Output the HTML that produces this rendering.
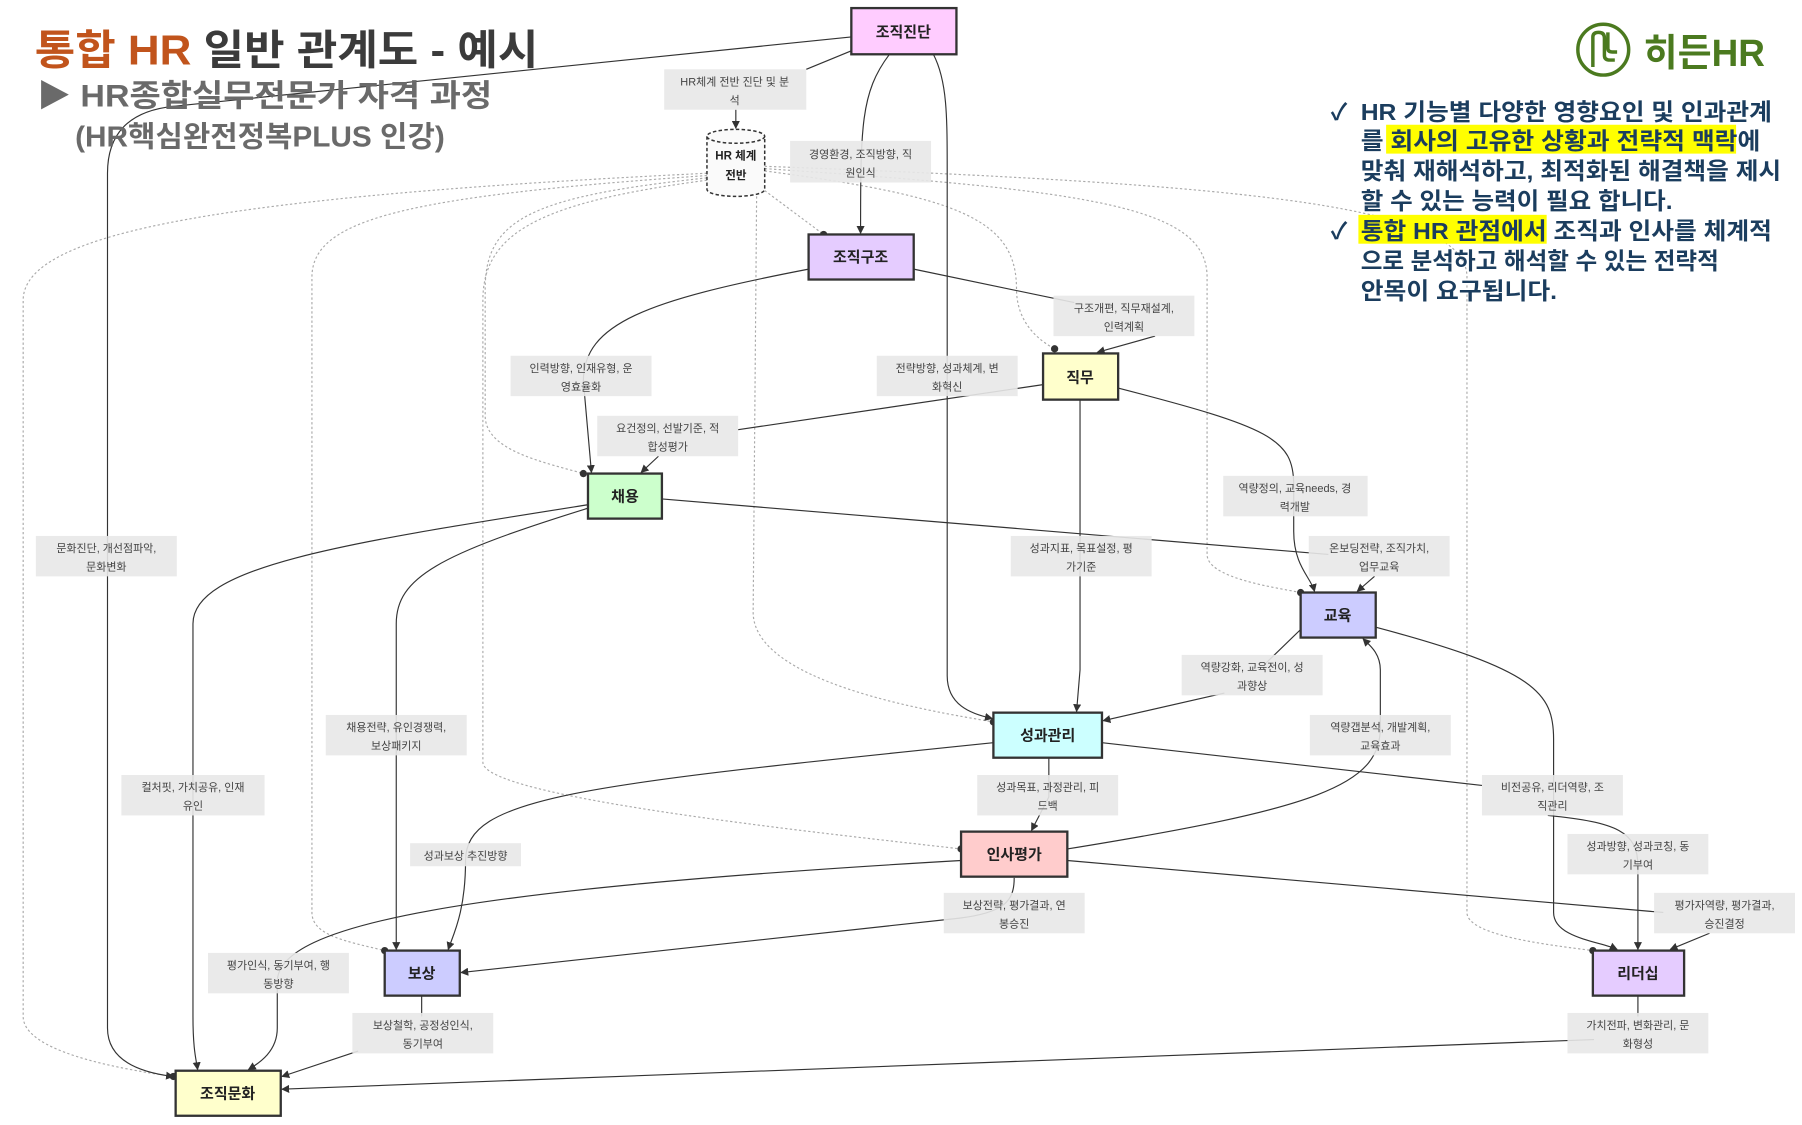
<!DOCTYPE html>
<html><head><meta charset="utf-8"><style>
html,body{margin:0;padding:0;background:#fff;}
svg{display:block;}
text{font-family:"Liberation Sans","Noto Sans CJK KR",sans-serif;}
.lb{font-size:9.5px;fill:#444;}
.lbg{fill:#e8e8e8;opacity:.9;}
.nd{stroke:#333;stroke-width:2;}
.nt{font-size:13px;font-weight:bold;fill:#222;text-anchor:middle;}
.e{fill:none;stroke:#333;stroke-width:1;}
.d{fill:none;stroke:#aaa;stroke-width:1;stroke-dasharray:2,2;}
.bt{font-size:20px;fill:#1b3d5e;font-weight:bold;}
</style></head><body>
<svg width="1802" height="1125" viewBox="0 0 1560 974" xmlns="http://www.w3.org/2000/svg">
<defs>
<marker id="a" viewBox="0 0 10 10" refX="9" refY="5" markerWidth="7" markerHeight="7" markerUnits="userSpaceOnUse" orient="auto"><path d="M0,0 L10,5 L0,10 z" fill="#333"/></marker>
<marker id="c" viewBox="0 0 10 10" refX="5" refY="5" markerWidth="7" markerHeight="7" markerUnits="userSpaceOnUse"><circle cx="5" cy="5" r="4.5" fill="#333"/></marker>
</defs>

<!-- dotted edges from HR 체계 -->
<g class="d" marker-end="url(#c)">
<path d="M612,150 C200,170 20,200 20,260 L20,880 C20,910 100,925 150,932"/>
<path d="M612,152 C350,170 270,190 270,240 L270,790 C270,810 300,815 333,823"/>
<path d="M612,154 C460,170 420,190 420,250 L420,360 C420,390 470,400 505,410"/>
<path d="M612,156 C470,175 418,200 418,260 L418,660 C418,690 700,720 832,735"/>
<path d="M655,170 L652,530 C652,590 800,615 860,625"/>
<path d="M662,165 L713,203"/>
<path d="M662,148 C830,170 880,190 880,250 C880,280 900,295 913,302"/>
<path d="M662,146 C950,165 1045,180 1045,240 L1045,480 C1045,500 1100,508 1126,513"/>
<path d="M662,144 C1100,160 1270,180 1270,240 L1270,790 C1270,810 1340,818 1379,823"/>
</g>

<!-- solid edges -->
<g class="e">
<path d="M737,32 L150,92 Q93,98 93,150 L93,890 Q93,925 150,932" marker-end="url(#a)"/>
<path d="M737,44 L698,60"/>
<path d="M637,95 L637,111" marker-end="url(#a)"/>
<path d="M770,47 C745,80 745,110 745,202" marker-end="url(#a)"/>
<path d="M808,47 C820,70 820,100 820,150 L820,585 C820,610 840,618 859,622" marker-end="url(#a)"/>
<path d="M791,233 L930,262"/>
<path d="M1000,291 L950,305" marker-end="url(#a)"/>
<path d="M700,233 C560,260 505,280 505,330 L512,409" marker-end="url(#a)"/>
<path d="M903,333 L639,372"/>
<path d="M570,395 L555,409" marker-end="url(#a)"/>
<path d="M968,336 C1100,370 1120,380 1120,420 L1120,460 C1120,490 1135,500 1138,512" marker-end="url(#a)"/>
<path d="M935,346 L935,580 L932,616" marker-end="url(#a)"/>
<path d="M573,432 L1150,480"/>
<path d="M1190,499 L1175,512" marker-end="url(#a)"/>
<path d="M509,437 C300,470 167,490 167,540 L167,880 C167,910 170,918 171,926" marker-end="url(#a)"/>
<path d="M509,440 C380,480 343,500 343,540 L343,822" marker-end="url(#a)"/>
<path d="M1126,545 L1095,575"/>
<path d="M1060,600 L955,624" marker-end="url(#a)"/>
<path d="M1191,543 C1330,580 1345,600 1345,640 L1345,790 C1345,812 1385,815 1400,822" marker-end="url(#a)"/>
<path d="M924,735 C1140,700 1195,680 1195,630 L1195,580 C1195,565 1185,558 1180,553" marker-end="url(#a)"/>
<path d="M860,643 C500,680 403,690 403,745 C403,790 392,810 388,822" marker-end="url(#a)"/>
<path d="M908,656 L908,690 L893,719" marker-end="url(#a)"/>
<path d="M954,643 L1283,680"/>
<path d="M1340,706 C1400,712 1418,720 1418,750 L1418,822" marker-end="url(#a)"/>
<path d="M878,760 C878,780 870,790 830,795 L399,842" marker-end="url(#a)"/>
<path d="M832,745 C400,770 240,800 240,850 L240,890 C240,910 225,920 215,926" marker-end="url(#a)"/>
<path d="M924,745 L1440,790"/>
<path d="M1480,808 L1446,822" marker-end="url(#a)"/>
<path d="M365,862 L365,880"/>
<path d="M310,910 L244,932" marker-end="url(#a)"/>
<path d="M1418,862 L1418,880"/>
<path d="M1380,900 L244,943" marker-end="url(#a)"/>
</g>

<!-- edge labels -->
<g>
<rect class="lbg" x="575" y="60" width="123" height="35"/><text class="lb" x="636" y="74" text-anchor="middle">HR체계 전반 진단 및 분</text><text class="lb" x="636" y="90" text-anchor="middle">석</text>
<rect class="lbg" x="684" y="122" width="122" height="36"/><text class="lb" x="745" y="137" text-anchor="middle">경영환경, 조직방향, 직</text><text class="lb" x="745" y="153" text-anchor="middle">원인식</text>
<rect class="lbg" x="912" y="256" width="122" height="35"/><text class="lb" x="973" y="270" text-anchor="middle">구조개편, 직무재설계,</text><text class="lb" x="973" y="286" text-anchor="middle">인력계획</text>
<rect class="lbg" x="442" y="308" width="122" height="35"/><text class="lb" x="503" y="322" text-anchor="middle">인력방향, 인재유형, 운</text><text class="lb" x="503" y="338" text-anchor="middle">영효율화</text>
<rect class="lbg" x="759" y="308" width="122" height="35"/><text class="lb" x="820" y="322" text-anchor="middle">전략방향, 성과체계, 변</text><text class="lb" x="820" y="338" text-anchor="middle">화혁신</text>
<rect class="lbg" x="517" y="360" width="122" height="35"/><text class="lb" x="578" y="374" text-anchor="middle">요건정의, 선발기준, 적</text><text class="lb" x="578" y="390" text-anchor="middle">합성평가</text>
<rect class="lbg" x="1059" y="412" width="125" height="35"/><text class="lb" x="1121" y="426" text-anchor="middle">역량정의, 교육needs, 경</text><text class="lb" x="1121" y="442" text-anchor="middle">력개발</text>
<rect class="lbg" x="31" y="464" width="122" height="35"/><text class="lb" x="92" y="478" text-anchor="middle">문화진단, 개선점파악,</text><text class="lb" x="92" y="494" text-anchor="middle">문화변화</text>
<rect class="lbg" x="875" y="464" width="122" height="35"/><text class="lb" x="936" y="478" text-anchor="middle">성과지표, 목표설정, 평</text><text class="lb" x="936" y="494" text-anchor="middle">가기준</text>
<rect class="lbg" x="1133" y="464" width="122" height="35"/><text class="lb" x="1194" y="478" text-anchor="middle">온보딩전략, 조직가치,</text><text class="lb" x="1194" y="494" text-anchor="middle">업무교육</text>
<rect class="lbg" x="1023" y="567" width="122" height="35"/><text class="lb" x="1084" y="581" text-anchor="middle">역량강화, 교육전이, 성</text><text class="lb" x="1084" y="597" text-anchor="middle">과향상</text>
<rect class="lbg" x="282" y="619" width="122" height="35"/><text class="lb" x="343" y="633" text-anchor="middle">채용전략, 유인경쟁력,</text><text class="lb" x="343" y="649" text-anchor="middle">보상패키지</text>
<rect class="lbg" x="1134" y="619" width="122" height="35"/><text class="lb" x="1195" y="633" text-anchor="middle">역량갭분석, 개발계획,</text><text class="lb" x="1195" y="649" text-anchor="middle">교육효과</text>
<rect class="lbg" x="105" y="671" width="124" height="35"/><text class="lb" x="167" y="685" text-anchor="middle">컬처핏, 가치공유, 인재</text><text class="lb" x="167" y="701" text-anchor="middle">유인</text>
<rect class="lbg" x="846" y="671" width="122" height="35"/><text class="lb" x="907" y="685" text-anchor="middle">성과목표, 과정관리, 피</text><text class="lb" x="907" y="701" text-anchor="middle">드백</text>
<rect class="lbg" x="1283" y="671" width="122" height="35"/><text class="lb" x="1344" y="685" text-anchor="middle">비전공유, 리더역량, 조</text><text class="lb" x="1344" y="701" text-anchor="middle">직관리</text>
<rect class="lbg" x="355" y="730" width="96" height="20"/><text class="lb" x="403" y="744" text-anchor="middle">성과보상 추진방향</text>
<rect class="lbg" x="1357" y="722" width="122" height="35"/><text class="lb" x="1418" y="736" text-anchor="middle">성과방향, 성과코칭, 동</text><text class="lb" x="1418" y="752" text-anchor="middle">기부여</text>
<rect class="lbg" x="817" y="773" width="122" height="35"/><text class="lb" x="878" y="787" text-anchor="middle">보상전략, 평가결과, 연</text><text class="lb" x="878" y="803" text-anchor="middle">봉승진</text>
<rect class="lbg" x="1432" y="773" width="122" height="35"/><text class="lb" x="1493" y="787" text-anchor="middle">평가자역량, 평가결과,</text><text class="lb" x="1493" y="803" text-anchor="middle">승진결정</text>
<rect class="lbg" x="180" y="825" width="122" height="35"/><text class="lb" x="241" y="839" text-anchor="middle">평가인식, 동기부여, 행</text><text class="lb" x="241" y="855" text-anchor="middle">동방향</text>
<rect class="lbg" x="305" y="877" width="122" height="35"/><text class="lb" x="366" y="891" text-anchor="middle">보상철학, 공정성인식,</text><text class="lb" x="366" y="907" text-anchor="middle">동기부여</text>
<rect class="lbg" x="1357" y="877" width="122" height="35"/><text class="lb" x="1418" y="891" text-anchor="middle">가치전파, 변화관리, 문</text><text class="lb" x="1418" y="907" text-anchor="middle">화형성</text>
</g>

<!-- cylinder -->
<g fill="#fafafa" stroke="#333" stroke-width="1.3" stroke-dasharray="3,2">
<path d="M612,118 L612,164 A25,6 0 0 0 662,164 L662,118"/>
<ellipse cx="637" cy="118" rx="25" ry="6"/>
</g>
<text x="637" y="138" text-anchor="middle" font-size="10" font-weight="bold" fill="#222">HR 체계</text>
<text x="637" y="155" text-anchor="middle" font-size="10" font-weight="bold" fill="#222">전반</text>

<!-- nodes -->
<g class="nd">
<rect x="737" y="7" width="91" height="40" fill="#ffccff"/>
<rect x="700" y="203" width="91" height="39" fill="#e5ccff"/>
<rect x="903" y="306" width="65" height="40" fill="#ffffcc"/>
<rect x="509" y="410" width="64" height="39" fill="#ccffcc"/>
<rect x="1126" y="513" width="65" height="39" fill="#ccccff"/>
<rect x="860" y="617" width="94" height="39" fill="#ccffff"/>
<rect x="832" y="720" width="92" height="39" fill="#ffcccc"/>
<rect x="333" y="823" width="65" height="39" fill="#ccccff"/>
<rect x="1379" y="823" width="79" height="39" fill="#e5ccff"/>
<rect x="152" y="927" width="91" height="39" fill="#ffffcc"/>
</g>
<text class="nt" x="782" y="32">조직진단</text>
<text class="nt" x="745" y="227">조직구조</text>
<text class="nt" x="935" y="331">직무</text>
<text class="nt" x="541" y="434">채용</text>
<text class="nt" x="1158" y="537">교육</text>
<text class="nt" x="907" y="641">성과관리</text>
<text class="nt" x="878" y="744">인사평가</text>
<text class="nt" x="365" y="847">보상</text>
<text class="nt" x="1418" y="847">리더십</text>
<text class="nt" x="197" y="951">조직문화</text>

<!-- title -->
<text x="30" y="56" font-size="36" font-weight="bold" textLength="436" lengthAdjust="spacingAndGlyphs"><tspan fill="#c1541c">통합 HR </tspan><tspan fill="#3b3b3b">일반 관계도 - 예시</tspan></text>
<text x="32" y="92" font-size="27" font-weight="bold" fill="#6a6a6a" textLength="394" lengthAdjust="spacingAndGlyphs">▶ HR종합실무전문가 자격 과정</text>
<text x="65" y="127" font-size="25" fill="#6a6a6a" font-weight="bold" textLength="320" lengthAdjust="spacingAndGlyphs">(HR핵심완전정복PLUS 인강)</text>

<!-- logo -->
<g fill="none" stroke="#4b7a1f" stroke-width="3">
<circle cx="1388" cy="43" r="22"/>
<path d="M1379,58 L1379,32 Q1379,28 1384,28 Q1389,28 1389,33 L1389,48 Q1389,52 1394,52 L1398,52 M1392,28 L1392,42 Q1392,45 1396,45 L1400,45"/>
</g>
<text x="1423" y="57" font-size="33" fill="#4b7a1f" font-weight="bold" textLength="105" lengthAdjust="spacingAndGlyphs">히든HR</text>

<!-- right text -->
<rect x="1200" y="108" width="303" height="25" fill="#ffff00"/>
<rect x="1176" y="186" width="163" height="25" fill="#ffff00"/>
<text class="bt" x="1152" y="104" font-size="18">✓</text>
<text class="bt" x="1178" y="104" textLength="356" lengthAdjust="spacingAndGlyphs">HR 기능별 다양한 영향요인 및 인과관계</text>
<text class="bt" x="1178" y="129" textLength="346" lengthAdjust="spacingAndGlyphs">를 회사의 고유한 상황과 전략적 맥락에</text>
<text class="bt" x="1178" y="155" textLength="364" lengthAdjust="spacingAndGlyphs">맞춰 재해석하고, 최적화된 해결책을 제시</text>
<text class="bt" x="1178" y="181" textLength="270" lengthAdjust="spacingAndGlyphs">할 수 있는 능력이 필요 합니다.</text>
<text class="bt" x="1152" y="207" font-size="18">✓</text>
<text class="bt" x="1178" y="207" textLength="356" lengthAdjust="spacingAndGlyphs">통합 HR 관점에서 조직과 인사를 체계적</text>
<text class="bt" x="1178" y="233" textLength="310" lengthAdjust="spacingAndGlyphs">으로 분석하고 해석할 수 있는 전략적</text>
<text class="bt" x="1178" y="259" textLength="170" lengthAdjust="spacingAndGlyphs">안목이 요구됩니다.</text>
</svg>
</body></html>
